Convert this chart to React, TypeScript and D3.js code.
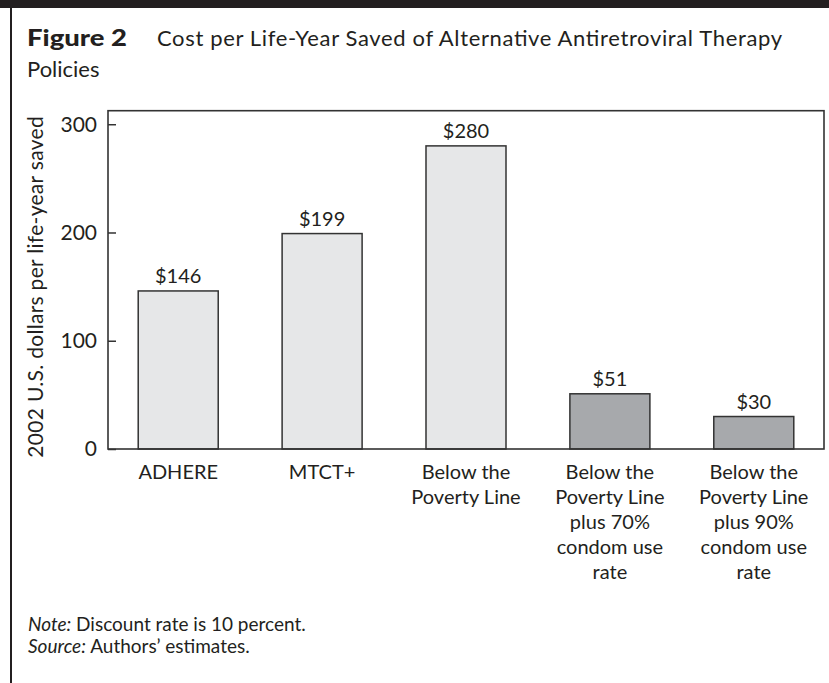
import * as d3 from "d3";
import { useEffect, useRef } from "react";

// Values
const categories = ["ADHERE", "MTCT+", "BPL", "BPL70", "BPL90"];
const categoryLines = [
  ["ADHERE"],
  ["MTCT+"],
  ["Below the", "Poverty Line"],
  ["Below the", "Poverty Line", "plus 70%", "condom use", "rate"],
  ["Below the", "Poverty Line", "plus 90%", "condom use", "rate"],
];
const costs = [146, 199, 280, 51, 30];
const policyGroup = ["art", "art", "art", "condom", "condom"];
const yTicks = [0, 100, 200, 300];

const FONT = "Lato, 'Liberation Sans', sans-serif";
const INK = "#231f20";

function drawChart(node: SVGSVGElement) {
  const width = 829;
  const height = 683;
  const plotLeft = 108;
  const plotRight = 824;
  const plotBottom = 449;
  const plotTop = 110.7;

  const svg = d3.select(node)
    .attr("width", width)
    .attr("height", height)
    .attr("viewBox", [0, 0, width, height])
    .style("display", "block")
    .style("font-family", FONT);

  svg.selectAll("*").remove();

  // page furniture: black band on top, rule on the left
  svg.append("rect").attr("x", 0).attr("y", 0).attr("width", width).attr("height", 8).attr("fill", INK);
  svg.append("line")
    .attr("x1", 11).attr("x2", 11).attr("y1", 8).attr("y2", height)
    .attr("stroke", INK).attr("stroke-width", 2);

  // title
  svg.append("text")
    .attr("x", 27).attr("y", 46)
    .attr("fill", INK)
    .attr("font-weight", 900)
    .attr("textLength", 100)
    .attr("lengthAdjust", "spacingAndGlyphs")
    .style("font-size", "23px")
    .text("Figure 2");
  svg.append("text")
    .attr("x", 157).attr("y", 46)
    .attr("fill", INK)
    .attr("textLength", 625)
    .attr("lengthAdjust", "spacing")
    .style("font-size", "22px")
    .text("Cost per Life-Year Saved of Alternative Antiretroviral Therapy");
  svg.append("text").attr("x", 27).attr("y", 77).attr("fill", INK).style("font-size", "22px").text("Policies");

  // scales
  const x = d3.scaleBand()
    .domain(categories)
    .range([plotLeft, plotRight])
    .paddingInner(0.444)
    .paddingOuter(0.21);

  const y = d3.scaleLinear()
    .domain([0, 312.5])
    .range([plotBottom, plotTop]);

  const color = d3.scaleOrdinal<string, string>()
    .domain(["art", "condom"])
    .range(["#e6e7e8", "#a7a9ac"]);

  // bars
  svg.append("g")
      .attr("stroke", "#333")
      .attr("stroke-width", 1.5)
    .selectAll()
    .data(categories)
    .join("rect")
      .attr("x", d => x(d) ?? 0)
      .attr("y", (d, i) => y(costs[i]))
      .attr("width", x.bandwidth())
      .attr("height", (d, i) => y(0) - y(costs[i]))
      .attr("fill", (d, i) => color(policyGroup[i]));

  // value labels
  svg.append("g")
      .attr("fill", INK)
      .attr("text-anchor", "middle")
      .style("font-size", "20px")
    .selectAll()
    .data(categories)
    .join("text")
      .attr("x", d => (x(d) ?? 0) + x.bandwidth() / 2)
      .attr("y", (d, i) => y(costs[i]) - 8)
      .text((d, i) => `$${costs[i]}`);

  // frame
  svg.append("rect")
    .attr("x", plotLeft).attr("y", plotTop)
    .attr("width", plotRight - plotLeft).attr("height", plotBottom - plotTop)
    .attr("fill", "none").attr("stroke", "#333").attr("stroke-width", 1.6);

  // y axis, ticks pointing inward
  svg.append("g")
      .attr("transform", `translate(${plotLeft},0)`)
      .call(d3.axisRight(y).tickValues(yTicks).tickSize(8).tickFormat(() => ""))
      .call(g => g.select(".domain").remove())
      .call(g => g.selectAll("line").attr("stroke", "#333").attr("stroke-width", 1.5));

  svg.append("g")
      .attr("fill", INK)
      .attr("text-anchor", "end")
      .style("font-size", "21px")
    .selectAll()
    .data(yTicks)
    .join("text")
      .attr("x", 97)
      .attr("y", d => y(d))
      .attr("dy", "0.35em")
      .text(d => String(d));

  svg.append("text")
    .attr("transform", `translate(43,${(plotTop + plotBottom) / 2 + 7}) rotate(-90)`)
    .attr("text-anchor", "middle")
    .attr("fill", INK)
    .style("font-size", "21px")
    .style("letter-spacing", "0.3px")
    .text("2002 U.S. dollars per life-year saved");

  // category labels, multi-line
  svg.append("g")
      .attr("fill", INK)
      .attr("text-anchor", "middle")
      .style("font-size", "20px")
    .selectAll()
    .data(categories)
    .join("text")
      .attr("x", d => (x(d) ?? 0) + x.bandwidth() / 2)
      .attr("y", 479)
    .each(function (d, i) {
      d3.select(this).selectAll("tspan")
        .data(categoryLines[i])
        .join("tspan")
          .attr("x", (x(d) ?? 0) + x.bandwidth() / 2)
          .attr("dy", (l, j) => (j === 0 ? 0 : 25))
          .text(l => l);
    });

  // notes
  const note = svg.append("text").attr("x", 28).attr("y", 631).attr("fill", INK).style("font-size", "19px");
  note.append("tspan").attr("font-style", "italic").text("Note:");
  note.append("tspan").text(" Discount rate is 10 percent.");
  const source = svg.append("text").attr("x", 28).attr("y", 653).attr("fill", INK).style("font-size", "19px");
  source.append("tspan").attr("font-style", "italic").text("Source:");
  source.append("tspan").text(" Authors\u2019 estimates.");
}

function App() {
  const ref = useRef<SVGSVGElement | null>(null);
  useEffect(() => {
    document.body.style.margin = "0";
    if (ref.current) drawChart(ref.current);
  }, []);
  return <svg ref={ref} />;
}

export default App;
